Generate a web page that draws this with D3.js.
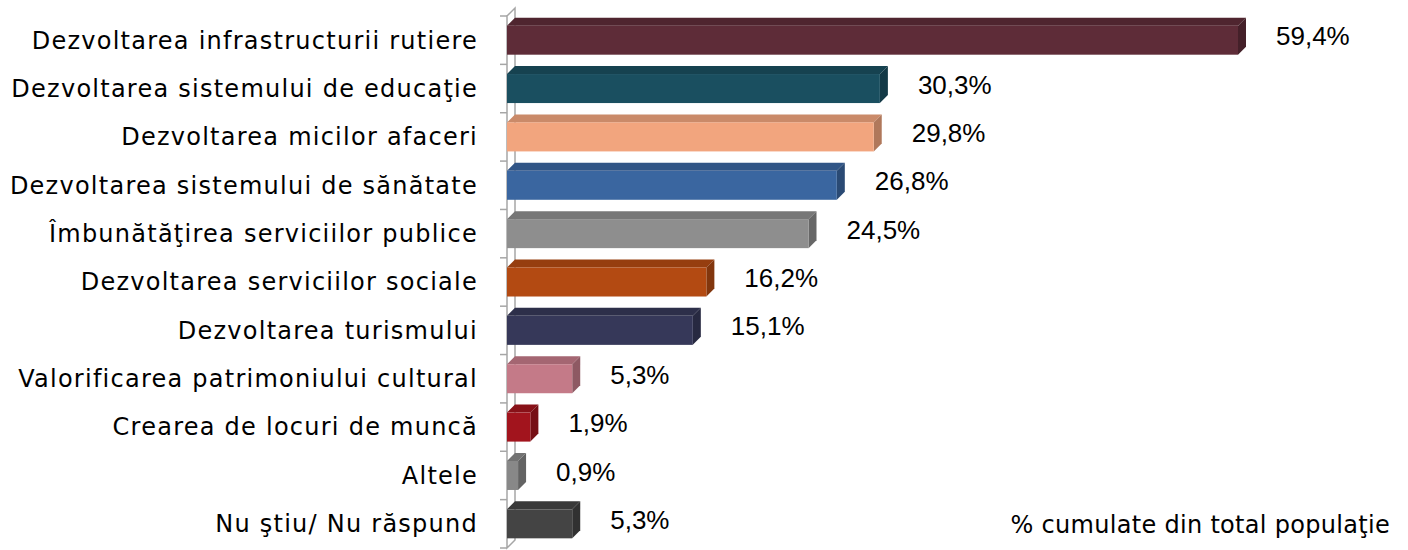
<!DOCTYPE html>
<html><head><meta charset="utf-8">
<script src="https://cdn.jsdelivr.net/npm/d3@7"></script>
<style>body{margin:0;background:#fff}svg{display:block}</style>
</head><body>
<script>
const categories = ["Dezvoltarea infrastructurii rutiere","Dezvoltarea sistemului de educaţie","Dezvoltarea micilor afaceri","Dezvoltarea sistemului de sănătate","Îmbunătăţirea serviciilor publice","Dezvoltarea serviciilor sociale","Dezvoltarea turismului","Valorificarea patrimoniului cultural","Crearea de locuri de muncă","Altele","Nu ştiu/ Nu răspund"];
const values = [59.4,30.3,29.8,26.8,24.5,16.2,15.1,5.3,1.9,0.9,5.3];
const valueLabels = ["59,4%","30,3%","29,8%","26,8%","24,5%","16,2%","15,1%","5,3%","1,9%","0,9%","5,3%"];
const colors = ["#5e2c38","#1a4f60","#f2a57e","#3a66a0","#8e8e8e","#b34a12","#363859","#c47a88","#a2141d","#888888","#444444"];
const footnote = "% cumulate din total populaţie";

const W=1408,H=550, x0=507, d=8;
const svg=d3.select("body").append("svg").attr("width",W).attr("height",H);
const x=d3.scaleLinear().domain([0,59.4]).range([x0,1238]);
const y=d3.scaleBand().domain(categories).range([16,548]).paddingInner(0.4).paddingOuter(0.2);

// wall
const g=svg.append("g").attr("stroke","#a6a6a6").attr("stroke-width",1.5).attr("fill","none");
g.append("path").attr("d",`M${x0},16 L${x0+d},${16-d} L${x0+d},${548-d} L${x0},548 Z`);
const bounds=d3.range(categories.length+1).map(i=>16+i*(532/categories.length));
g.selectAll("line.t").data(bounds).join("line").attr("x1",x0-7).attr("x2",x0).attr("y1",b=>b).attr("y2",b=>b);

function shade(c,k){return d3.color(c).darker(k).toString();}
const bars=svg.append("g").selectAll("g").data(categories).join("g");
bars.append("path").attr("fill",(c,i)=>shade(colors[i],0.5))
  .attr("d",(c,i)=>{const yy=y(c),xe=x(values[i]);return `M${x0},${yy} L${x0+d},${yy-d} L${xe+d},${yy-d} L${xe},${yy} Z`;});
bars.append("path").attr("fill",(c,i)=>shade(colors[i],0.9))
  .attr("d",(c,i)=>{const yy=y(c),xe=x(values[i]),h=y.bandwidth();return `M${xe},${yy} L${xe+d},${yy-d} L${xe+d},${yy+h-d} L${xe},${yy+h} Z`;});
bars.append("rect").attr("x",x0).attr("y",c=>y(c)).attr("width",(c,i)=>x(values[i])-x0).attr("height",y.bandwidth())
  .attr("fill",(c,i)=>colors[i]);
bars.append("text").attr("x",(c,i)=>x(values[i])+38).attr("y",c=>y(c)+y.bandwidth()/2-4).attr("dy","0.35em")
  .attr("font-family","Liberation Sans, Arial").attr("font-size",26).attr("fill","#000").text((c,i)=>valueLabels[i]);

svg.append("g").selectAll("text").data(categories).join("text")
  .attr("x",478).attr("y",c=>y(c)+y.bandwidth()/2).attr("dy","0.35em").attr("text-anchor","end")
  .attr("font-family","DejaVu Sans").attr("font-size",24).attr("letter-spacing",1.25).attr("fill","#000").text(c=>c);

svg.append("text").attr("x",1390).attr("y",525).attr("dy","0.35em").attr("text-anchor","end")
  .attr("font-family","DejaVu Sans").attr("font-size",24).attr("letter-spacing",0.3).text(footnote);
</script>
</body></html>
